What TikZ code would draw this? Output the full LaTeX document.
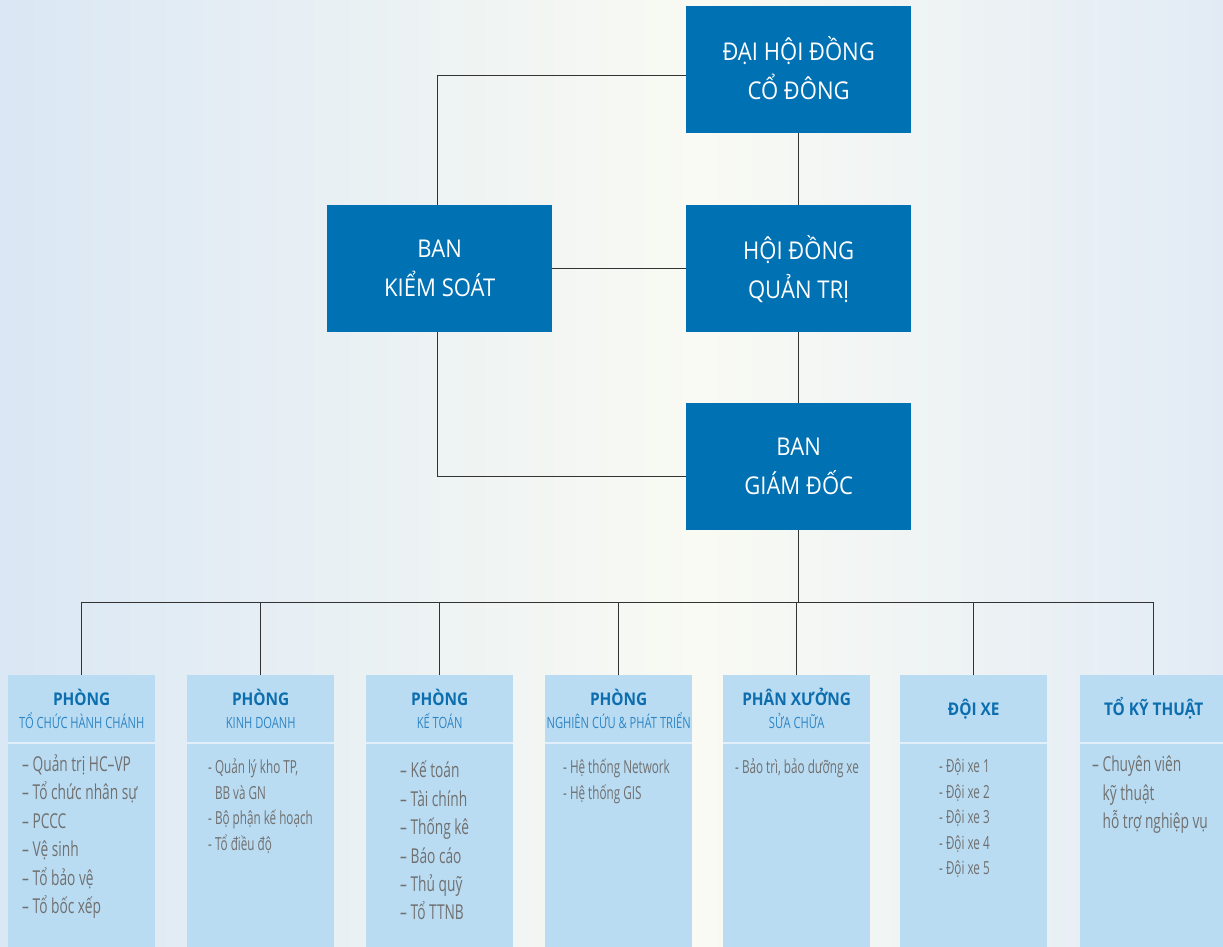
\documentclass[tikz,border=0pt]{standalone}
\usepackage{fontspec}
\usetikzlibrary{calc}
\setmainfont{Open Sans}
\newfontfamily\topfont[FakeStretch=0.9]{Open Sans}
\newfontfamily\headfont[FakeStretch=0.88]{Open Sans}
\newfontfamily\subfont[FakeStretch=0.72]{Open Sans}
\newfontfamily\bodyfont[FakeStretch=0.67]{Open Sans}
\newfontfamily\smallfont[FakeStretch=0.65]{Open Sans}
\definecolor{darkblue}{HTML}{0071B2}
\definecolor{lightbox}{HTML}{BADCF2}
\definecolor{headblue}{HTML}{0D6EAF}
\definecolor{subblue}{HTML}{2E86C5}
\definecolor{bodygray}{HTML}{707070}
\definecolor{bgL}{HTML}{DAE7F4}
\definecolor{bgM}{HTML}{F9FAF3}
\definecolor{bgR}{HTML}{E2EBF5}
\definecolor{linecol}{HTML}{333333}
\tikzset{
  topbox/.style={fill=darkblue, text=white, minimum width=225pt, minimum height=127pt,
    inner sep=0pt, align=center, anchor=north west,
    font=\topfont\fontsize{24.5}{39}\selectfont},
  headbox/.style={fill=lightbox, minimum width=147pt, minimum height=67pt, inner sep=0pt,
    align=center, anchor=north west, text=headblue,
    font=\headfont\fontsize{17.5}{23}\selectfont},
  bodybox/.style={fill=lightbox, minimum width=147pt, minimum height=203pt, inner sep=0pt,
    anchor=north west},
  bodytext/.style={inner sep=0pt, anchor=north west, align=left, text=bodygray,
    font=\bodyfont\fontsize{20.5}{28.4}\selectfont},
  smalltext/.style={bodytext, font=\smallfont\fontsize{18}{25.5}\selectfont},
  conn/.style={draw=linecol, line width=1.1pt},
  sepline/.style={fill=white!55!lightbox}
}
\newcommand{\sub}[1]{{\subfont\fontsize{15.5}{23}\selectfont\color{subblue}#1}}
\begin{document}
\begin{tikzpicture}[x=1pt,y=-1pt]
\shade[left color=bgL, right color=bgM] (0,0) rectangle (700,947);
\shade[left color=bgM, right color=bgR] (700,0) rectangle (1223,947);
\useasboundingbox (0,0) rectangle (1223,947);

% top boxes
\node[topbox] (dhd) at (686,6) {ĐẠI HỘI ĐỒNG\\CỔ ĐÔNG\vphantom{Ị}};
\node[topbox] (bks) at (327,205) {BAN\\KIỂM SOÁT};
\node[topbox] (hdqt) at (686,205) {HỘI ĐỒNG\\QUẢN TRỊ};
\node[topbox] (bgd) at (686,403) {BAN\\GIÁM ĐỐC};

% bottom headers
\node[headbox] (h1) at (8,675) {\textbf{PHÒNG}\\\sub{TỔ CHỨC HÀNH CHÁNH}};
\node[headbox] (h2) at (187,675) {\textbf{PHÒNG}\\\sub{KINH DOANH}};
\node[headbox] (h3) at (366,675) {\textbf{PHÒNG}\\\sub{KẾ TOÁN}};
\node[headbox] (h4) at (545,675) {\textbf{PHÒNG}\\\sub{NGHIÊN CỨU \& PHÁT TRIỂN}};
\node[headbox] (h5) at (723,675) {\textbf{PHÂN XƯỞNG}\\\sub{SỬA CHỮA}};
\node[headbox] (h6) at (900,675) {\textbf{ĐỘI XE}\vphantom{Ị}};
\node[headbox] (h7) at (1080,675) {\textbf{TỔ KỸ THUẬT}};

% bottom bodies
\foreach \i/\x in {1/8,2/187,3/366,4/545,5/723,6/900,7/1080}{
  \node[bodybox] (b\i) at (\x,744) {};
  \fill[sepline] (h\i.south west) rectangle (b\i.north east);
}

% body texts
\node[bodytext] (t1) at (22,754.5) {– Quản trị HC–VP\\– Tổ chức nhân sự\\– PCCC\\– Vệ sinh\\– Tổ bảo vệ\\– Tổ bốc xếp};
\node[smalltext] (t2) at (208,759) {- Quản lý kho TP,\\\hphantom{- }BB và GN\\- Bộ phận kế hoạch\\- Tổ điều độ};
\node[bodytext] (t3) at (400,761) {– Kế toán\\– Tài chính\\– Thống kê\\– Báo cáo\\– Thủ quỹ\\– Tổ TTNB};
\node[smalltext] (t4) at (563,759) {- Hệ thống Network\\- Hệ thống GIS};
\node[smalltext] (t5) at (735,759) {- Bảo trì, bảo dưỡng xe};
\node[smalltext] (t6) at (939,759) {- Đội xe 1\\- Đội xe 2\\- Đội xe 3\\- Đội xe 4\\- Đội xe 5};
\node[bodytext] (t7) at (1092,756) {– Chuyên viên\\\hphantom{– }kỹ thuật\\\hphantom{– }hỗ trợ nghiệp vụ};

% connectors
\draw[conn] ($(dhd.west)+(0,5.5)$) -| ($(bks.north)+(-2.5,0)$);
\draw[conn] (dhd.south) -- (hdqt.north);
\draw[conn] (bks.east) -- (hdqt.west);
\draw[conn] (hdqt.south) -- (bgd.north);
\draw[conn] ($(bks.south)+(-2.5,0)$) |- ($(bgd.west)+(0,9.5)$);
\coordinate (bus) at ($(bgd.south)+(0,72)$);
\draw[conn] (bgd.south) -- (bus);
\draw[conn] (h1.north) |- (bus) -| (h7.north);
\foreach \i in {2,3,4,5,6}{
  \draw[conn] (h\i.north) -- (h\i.north |- bus);
}
\end{tikzpicture}
\end{document}
